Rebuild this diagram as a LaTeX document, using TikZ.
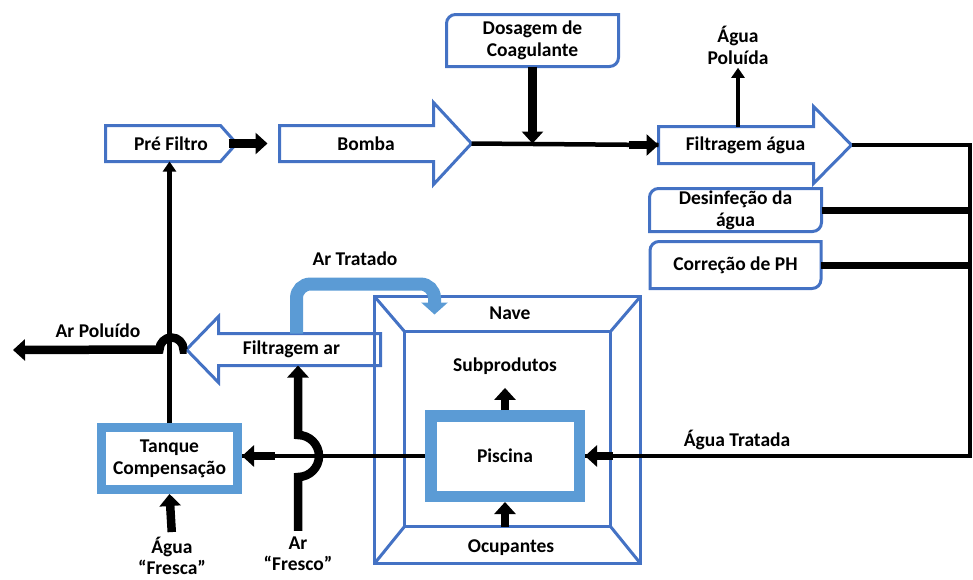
\documentclass[tikz,border=0pt]{standalone}
\usepackage{fontspec}
\setmainfont{Carlito}
\usepackage{tikz}
\usetikzlibrary{arrows.meta,positioning}
\definecolor{boxblue}{RGB}{68,114,196}
\definecolor{lightblue}{RGB}{91,155,213}

\begin{document}
\begin{tikzpicture}[x=1pt,y=-1pt,
    every node/.style={font=\fontsize{19.5}{22}\selectfont\bfseries, align=center},
    bluebox/.style={draw=boxblue, line width=3pt, line join=miter},
    ghost/.style={inner sep=0pt, outer sep=0pt},
    navebox/.style={draw=boxblue, line width=3pt, outer sep=0pt, inner sep=0pt},
    thinline/.style={line width=4.5pt},
    thinarrow/.style={line width=4.5pt, -{Triangle[width=13pt,length=10pt]}},
    fat/.style={line width=8.5pt, -{Triangle[width=21pt,length=12pt]}},
    feed/.style={line width=7pt}]
    \useasboundingbox (0,0) rectangle (973,579);
    %% node
    % \draw [help lines] (0,0) grid (973,579);
    \node (prefiltro) at (171,143.5) [ghost, minimum width=131pt, minimum height=36pt] {Pré Filtro};
    \node (bomba) at (366,143.5) [ghost, minimum width=173pt, minimum height=36pt] {Bomba};
    \node (fagua) at (745.5,145) [ghost, minimum width=174pt, minimum height=37pt] {Filtragem água};
    \node (far) at (291.5,349.5) [ghost, minimum width=178pt, minimum height=32pt] {Filtragem ar};
    \node (dosagem) at (532.5,40.5) [outer sep=0pt, minimum width=172pt, minimum height=52pt]
      {Dosagem de\\Coagulante};
    \node (desinf) at (735.5,210) [outer sep=0pt, inner ysep=1pt, minimum width=172pt, minimum height=43pt]
      {Desinfeção da\\água};
    \node (correcao) [below=10pt of desinf, outer sep=0pt, minimum width=171pt, minimum height=47pt]
      {Correção de PH};
    \node (nave) at (507.5,430) [navebox, minimum width=266pt, minimum height=267pt] {};
    \node (naveinner) at (507.5,429) [navebox, minimum width=206pt, minimum height=195pt] {};
    \node (piscina) at (505,456) [draw=lightblue, line width=11.5pt, minimum width=148.5pt, minimum height=80.5pt] {Piscina};
    \node (tanque) at (169.5,458.5) [draw=lightblue, line width=9pt, minimum width=136pt, minimum height=62pt]
      {Tanque\\Compensação};
    \node (navelbl) at (510,313) {Nave};
    \node (ocup) at (511,548) {Ocupantes};
    \node (subprod) at (505,366) {Subprodutos};
    \node (aguapol) at (738,45) {Água\\Poluída};
    \node (artrat) at (355,259) {Ar Tratado};
    \node (arpol) at (98,331) {Ar Poluído};
    \node (aguatrat) at (737,440) {Água Tratada};
    \node (aguafresca) at (172,556) [inner sep=1pt, font=\fontsize{19.5}{21}\selectfont\bfseries] {Água\\“Fresca”};
    \node (arfresco) at (298,554) [inner sep=1pt, font=\fontsize{19.5}{21}\selectfont\bfseries] {Ar\\“Fresco”};
    \coordinate (bus) at (970,145);
    \coordinate (trat) at (434.5,284);
    \coordinate (arpolend) at (13,350);
    %% outline
    \draw[bluebox] (prefiltro.north west) -- ([xshift=-16pt]prefiltro.north east) -- (prefiltro.east)
      -- ([xshift=-16pt]prefiltro.south east) -- (prefiltro.south west) -- cycle;
    \draw[bluebox] (bomba.north west) -- ([xshift=-19pt]bomba.north east) -- ([xshift=-19pt,yshift=23pt]bomba.north east)
      -- ([xshift=19pt]bomba.east) coordinate (bombatip) -- ([xshift=-19pt,yshift=-23pt]bomba.south east)
      -- ([xshift=-19pt]bomba.south east) -- (bomba.south west) -- cycle;
    \draw[bluebox] (fagua.north west) -- ([xshift=-19pt]fagua.north east) -- ([xshift=-19pt,yshift=20pt]fagua.north east)
      -- ([xshift=19pt]fagua.east) coordinate (faguatip) -- ([xshift=-19pt,yshift=-20pt]fagua.south east)
      -- ([xshift=-19pt]fagua.south east) -- (fagua.south west) -- cycle;
    \draw[bluebox] (far.north east) -- ([xshift=16pt]far.north west) -- ([xshift=16pt,yshift=17pt]far.north west)
      -- ([xshift=-16pt]far.west) coordinate (fartip) -- ([xshift=16pt,yshift=-17pt]far.south west)
      -- ([xshift=16pt]far.south west) -- (far.south east) -- cycle;
    \draw[bluebox] (dosagem.west) [rounded corners=9pt] -- (dosagem.north west) -- (dosagem.north) [sharp corners]
      -- (dosagem.north east) -- (dosagem.east) [rounded corners=9pt] -- (dosagem.south east) -- (dosagem.south)
      [sharp corners] -- (dosagem.south west) -- cycle;
    \draw[bluebox] (desinf.west) [rounded corners=9pt] -- (desinf.north west) -- (desinf.north) [sharp corners]
      -- (desinf.north east) -- (desinf.east) [rounded corners=9pt] -- (desinf.south east) -- (desinf.south)
      [sharp corners] -- (desinf.south west) -- cycle;
    \draw[bluebox] (correcao.west) [rounded corners=9pt] -- (correcao.north west) -- (correcao.north) [sharp corners]
      -- (correcao.north east) -- (correcao.east) [rounded corners=9pt] -- (correcao.south east) -- (correcao.south)
      [sharp corners] -- (correcao.south west) -- cycle;
    \draw[navebox] (nave.north west) -- (naveinner.north west) (nave.north east) -- (naveinner.north east)
      (nave.south west) -- (naveinner.south west) (nave.south east) -- (naveinner.south east);
    %% path
    \draw[fat] ([xshift=-8pt]prefiltro.east) -- ([xshift=-12pt]bomba.west);
    \draw[thinline] (bombatip) -- (fagua.west);
    \draw[fat] ([xshift=-30pt]fagua.west) -- (fagua.west);
    \draw[fat] (dosagem.south) -- (dosagem.south |- bombatip);
    \draw[thinarrow] (aguapol.south |- fagua.north) -- (aguapol.south);
    \draw[thinline] (faguatip) -- (bus) |- (piscina.east);
    \draw[feed] (desinf.east) -- (desinf.east -| bus);
    \draw[feed] (correcao.east) -- (correcao.east -| bus);
    \draw[fat] ([xshift=28pt]piscina.east) -- (piscina.east);
    \draw[fat, shorten >=10pt] (piscina.north) -- (subprod.south);
    \draw[fat] (piscina.south |- naveinner.south) -- (piscina.south);
    \draw[thinline] (piscina.west) -- (piscina.west -| tanque.east);
    \draw[fat] ([xshift=33pt]piscina.west -| tanque.east) -- (piscina.west -| tanque.east);
    \draw[thinarrow] (tanque.north) -- (tanque.north |- prefiltro.south);
    \draw[fat, shorten <=4pt] (aguafresca.north) -- (tanque.south);
    \draw[fat, shorten <=5pt] (arfresco.north) -- ([yshift=-21pt]arfresco.north |- piscina.west)
      arc[start angle=90, end angle=-90, radius=21] -- (arfresco.north |- far.south);
    \draw[fat] (fartip) -- ([xshift=-3pt]fartip) arc[start angle=0, end angle=-180, radius=12] -- (arpolend);
    \draw[lightblue, line width=13pt, rounded corners=14pt, -{Triangle[width=26pt,length=12pt]}]
      ([xshift=5pt]far.north) |- (trat) -- ([xshift=60pt,yshift=-18pt]nave.north west);
\end{tikzpicture}
\end{document}
